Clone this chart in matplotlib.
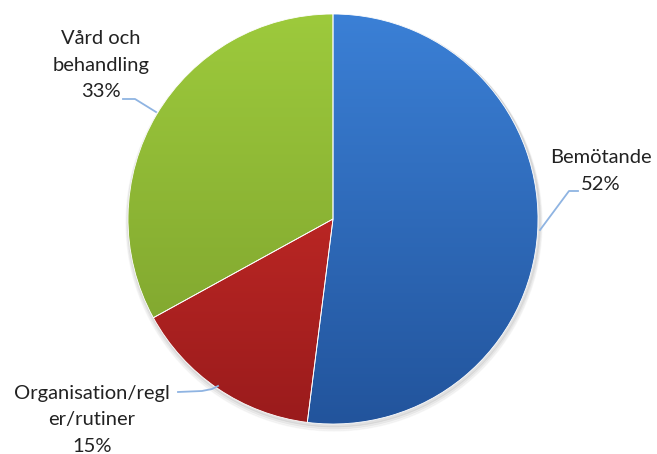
import matplotlib
matplotlib.use("Agg")
import matplotlib.pyplot as plt
import numpy as np
from matplotlib.colors import LinearSegmentedColormap

# kategorier och andelar (procent)
labels = ["Bemötande", "Organisation/regl\ner/rutiner", "Vård och\nbehandling"]
values = [52, 15, 33]

# färger: ljusare upptill, mörkare nedtill
top_colors = ["#3b80d6", "#d8312b", "#9dca3c"]
bottom_colors = ["#22549c", "#9a1b1c", "#7a9e2c"]

W, H = 657, 454
cx, cy, r = 333, H - 219, 205

fig = plt.figure(figsize=(W / 100, H / 100), dpi=100)
ax = fig.add_axes([0, 0, 1, 1])

# svag skugga under cirkeln
for k, a in enumerate([0.05, 0.04, 0.03]):
    sh = plt.Circle((cx + 1, cy - 2 - k), r + 1 + k, color="black", alpha=a, zorder=0)
    ax.add_patch(sh)

wedges, _ = ax.pie(values, startangle=90, counterclock=False, center=(cx, cy),
                   radius=r, frame=True,
                   wedgeprops=dict(linewidth=0.6, edgecolor="white"))

grad = np.linspace(0, 1, 256).reshape(-1, 1)
for w, c0, c1 in zip(wedges, top_colors, bottom_colors):
    cmap = LinearSegmentedColormap.from_list("g", [c1, c0])
    w.set_facecolor("none")
    im = ax.imshow(grad, cmap=cmap, extent=(cx - r, cx + r, cy - r, cy + r),
                   origin="lower", aspect="auto", zorder=1)
    im.set_clip_path(w)
    w.set_zorder(2)

ax.set_xlim(0, W)
ax.set_ylim(0, H)
ax.set_aspect("equal")
ax.axis("off")

lead = "#8fb4e2"
txt = dict(fontsize=14.5, family=["Lato", "DejaVu Sans"], color="#222222",
           ha="center", va="center", linespacing=1.65)

# Bemötande
ax.text(601, H - 171, f"{labels[0]}\n{values[0]}%", **txt)
ax.plot([578, 569, 540], [H - 191, H - 191, H - 230], color=lead, lw=1.3, zorder=3)

# Organisation
ax.text(92, H - 420, f"{labels[1]}\n{values[1]}%", **txt)
ax.plot([178, 202, 212, 218], [H - 392, H - 391, H - 389, H - 386], color=lead, lw=1.3, zorder=3)

# Vård och behandling
ax.text(101, H - 65, f"{labels[2]}\n{values[2]}%", **txt)
ax.plot([123, 135, 156], [H - 99, H - 99, H - 112], color=lead, lw=1.3, zorder=3)

fig.savefig("out.png", dpi=100)
